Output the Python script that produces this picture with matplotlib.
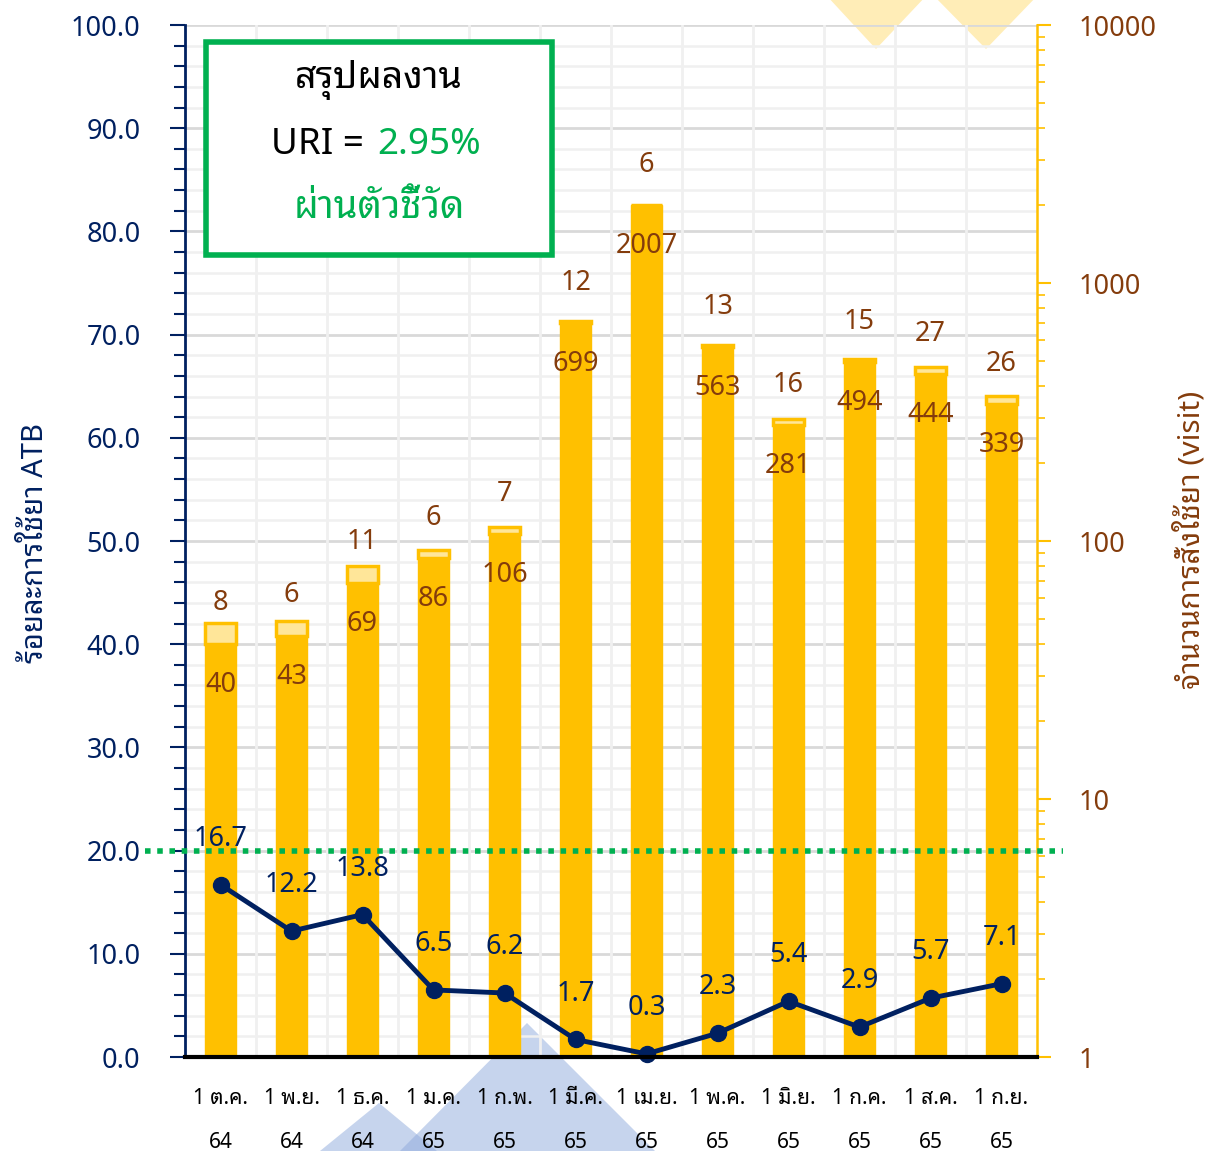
import matplotlib
matplotlib.use("Agg")
import matplotlib.pyplot as plt
from matplotlib import font_manager
from matplotlib.ft2font import FT2Font
from matplotlib.patches import Polygon, Rectangle
from matplotlib.lines import Line2D
from matplotlib.ticker import MultipleLocator, FixedLocator, NullFormatter, FuncFormatter
from matplotlib.transforms import blended_transform_factory
import numpy as np

# ---------------- data ----------------
months = ["1 ต.ค.", "1 พ.ย.", "1 ธ.ค.", "1 ม.ค.", "1 ก.พ.", "1 มี.ค.",
          "1 เม.ย.", "1 พ.ค.", "1 มิ.ย.", "1 ก.ค.", "1 ส.ค.", "1 ก.ย."]
years = ["64", "64", "64", "65", "65", "65", "65", "65", "65", "65", "65", "65"]
visits_other = [40, 43, 69, 86, 106, 699, 2007, 563, 281, 494, 444, 339]
visits_atb = [8, 6, 11, 6, 7, 12, 6, 13, 16, 15, 27, 26]
pct_atb = [16.7, 12.2, 13.8, 6.5, 6.2, 1.7, 0.3, 2.3, 5.4, 2.9, 5.7, 7.1]
target_pct = 20.0
uri_value = "2.95%"

# ---------------- fonts ----------------
thai_fonts = []
for f in font_manager.fontManager.ttflist:
    try:
        ft = FT2Font(f.fname)
        if ft.get_char_index(0x0E2A):
            thai_fonts.append(f.name)
    except Exception:
        pass
thai_fonts = sorted(set(thai_fonts))

def pick(cands):
    for c in cands:
        if c in thai_fonts:
            return c
    return thai_fonts[0] if thai_fonts else None

plain = pick(["Noto Sans Thai", "Noto Sans Thai UI", "Noto Sans Thai Looped"])
looped = pick(["Noto Sans Thai Looped", "IBM Plex Sans Thai Looped", "Noto Sans Thai"])
FAM = ([plain] if plain else []) + ["Noto Sans", "DejaVu Sans"]
THAI = ([looped] if looped else []) + FAM
plt.rcParams["font.family"] = FAM

NAVY = "#002060"
BROWN = "#843C0C"
GOLD = "#FFC000"
LIGHTGOLD = "#FFE699"
GREEN = "#00B050"

W, H = 1211, 1151
fig = plt.figure(figsize=(W / 100, H / 100), dpi=100)
fig.patch.set_facecolor("white")

def fx(px):
    return px / W

def fy(py):
    return 1 - py / H

# decorative background triangles
for pts, col, a in [
    ([(826, -5), (927, -5), (876, 49)], "#FFE699", 0.7),
    ([(933, -5), (1038, -5), (986, 49)], "#FFE699", 0.7),
    ([(400, 1151), (655, 1151), (527, 1023)], "#8FAADC", 0.5),
    ([(320, 1151), (437, 1151), (379, 1103)], "#8FAADC", 0.5),
]:
    fig.patches.append(Polygon([(fx(x), fy(y)) for x, y in pts], closed=True,
                               transform=fig.transFigure, facecolor=col,
                               edgecolor="none", alpha=a, zorder=-5))

left, right, top, bottom = 185, 1037, 25, 1057
ax_bar = fig.add_axes([fx(left), fy(bottom), fx(right) - fx(left), fy(top) - fy(bottom)])
ax_bar.patch.set_visible(False)
ax_line = ax_bar.twinx()
ax_line.patch.set_visible(False)

x = np.arange(len(months))

# ---------------- bars (log scale, right axis) ----------------
ax_bar.set_yscale("log")
ax_bar.set_ylim(1, 10000)
ax_bar.set_xlim(-0.5, len(months) - 0.5)
bw = 0.43
ax_bar.bar(x, visits_other, width=bw, color=GOLD, edgecolor="none", zorder=3)
ax_bar.bar(x, visits_atb, bottom=visits_other, width=bw, color=LIGHTGOLD,
           edgecolor=GOLD, linewidth=2.5, zorder=3)
ax_bar.bar(x, np.array(visits_other) + np.array(visits_atb), width=bw, fill=False,
           edgecolor=GOLD, linewidth=1.0, zorder=3)

LBL = 19.5
for xi, vo, va in zip(x, visits_other, visits_atb):
    ax_bar.annotate(f"{vo}", (xi, vo), xytext=(0, -29.5), textcoords="offset points",
                    ha="center", va="center", fontsize=LBL, color=BROWN, zorder=5)
    ax_bar.annotate(f"{va}", (xi, vo), xytext=(0, 29), textcoords="offset points",
                    ha="center", va="center", fontsize=LBL, color=BROWN, zorder=5)

# gridlines (drawn in bar axes, behind bars)
gtr = blended_transform_factory(ax_bar.transAxes, ax_line.transData)
for v in np.arange(2, 101, 2):
    major = (v % 10 == 0)
    ax_bar.add_line(Line2D([0, 1], [v, v], transform=gtr,
                           color="#D9D9D9" if major else "#F0F0F0",
                           lw=2.0 if major else 1.8, zorder=1))
for b in np.arange(0.5, len(months) - 0.5, 1.0):
    ax_bar.axvline(b, color="#F0F0F0", lw=2.0, zorder=1)

ax_bar.yaxis.set_ticks_position("right")
ax_bar.yaxis.set_label_position("right")
ax_bar.yaxis.set_major_locator(FixedLocator([1, 10, 100, 1000, 10000]))
ax_bar.yaxis.set_major_formatter(FuncFormatter(lambda v, p: f"{int(round(v))}"))
ax_bar.yaxis.set_minor_formatter(NullFormatter())
ax_bar.tick_params(axis="y", which="major", colors=GOLD, labelcolor=BROWN,
                   length=10, width=1.5, labelsize=19.5, pad=20, direction="out")
ax_bar.tick_params(axis="y", which="minor", colors=GOLD, length=6, width=1.2, direction="out")
ax_bar.set_xticks(x)
ax_bar.set_xticklabels([f"{m}\n{y}" for m, y in zip(months, years)],
                       fontsize=15, color="black", linespacing=2.45, family=THAI)
ax_bar.tick_params(axis="x", length=0, pad=22)
for s in ["top", "left", "bottom"]:
    ax_bar.spines[s].set_visible(False)
ax_bar.spines["right"].set_color(GOLD)
ax_bar.spines["right"].set_linewidth(1.8)

# ---------------- line (linear, left axis) ----------------
ax_line.set_ylim(0, 100)
ax_line.yaxis.set_ticks_position("left")
ax_line.yaxis.set_label_position("left")
ax_line.yaxis.set_major_locator(MultipleLocator(10))
ax_line.yaxis.set_minor_locator(MultipleLocator(2))
ax_line.yaxis.set_major_formatter(FuncFormatter(lambda v, p: f"{v:.1f}"))
ax_line.tick_params(axis="y", which="major", colors=NAVY, labelcolor=NAVY,
                    length=11, width=1.5, labelsize=19.5, pad=21, direction="out")
ax_line.tick_params(axis="y", which="minor", colors=NAVY, length=8, width=1.5, direction="out")
for s in ["top", "right"]:
    ax_line.spines[s].set_visible(False)
ax_line.spines["left"].set_color(NAVY)
ax_line.spines["left"].set_linewidth(2)
ax_line.spines["bottom"].set_color("black")
ax_line.spines["bottom"].set_linewidth(3)
ax_line.spines["bottom"].set_zorder(4)

ax_line.add_line(Line2D([-0.047, 1.031], [target_pct, target_pct],
                        transform=blended_transform_factory(ax_line.transAxes, ax_line.transData),
                        color=GREEN, lw=4, linestyle=(0, (1, 1.2)), clip_on=False, zorder=3))

ax_line.plot(x, pct_atb, color=NAVY, lw=3.5, marker="o", markersize=11.5,
             zorder=4, clip_on=False)
for xi, p in zip(x, pct_atb):
    ax_line.annotate(f"{p:.1f}", (xi, p), xytext=(0, 33), textcoords="offset points",
                     ha="center", va="center", fontsize=LBL, color=NAVY, zorder=5)

# axis titles
fig.text(fx(36), fy(543), "ร้อยละการใช้ยา ATB", rotation=90, ha="center", va="center",
         fontsize=21, color=NAVY, family=THAI)
fig.text(fx(1190), fy(540), "จำนวนการสั่งใช้ยา (visit)", rotation=90, ha="center",
         va="center", fontsize=21.5, color=BROWN, family=THAI)

# summary box
fig.patches.append(Rectangle((fx(206), fy(255)), fx(552) - fx(206), fy(42) - fy(255),
                             transform=fig.transFigure, facecolor="white",
                             edgecolor=GREEN, linewidth=4, zorder=10))
fig.text(fx(379), fy(80), "สรุปผลงาน", ha="center", va="center", fontsize=27,
         color="black", zorder=11, family=THAI)
fig.text(fx(374), fy(145), "URI = ", ha="right", va="center", fontsize=26.5,
         color="black", zorder=11)
fig.text(fx(377), fy(145), uri_value, ha="left", va="center", fontsize=26.5,
         color=GREEN, zorder=11)
fig.text(fx(379), fy(208), "ผ่านตัวชี้วัด", ha="center", va="center", fontsize=27.5,
         color=GREEN, zorder=11, family=THAI)

fig.savefig("out.png", dpi=100)
